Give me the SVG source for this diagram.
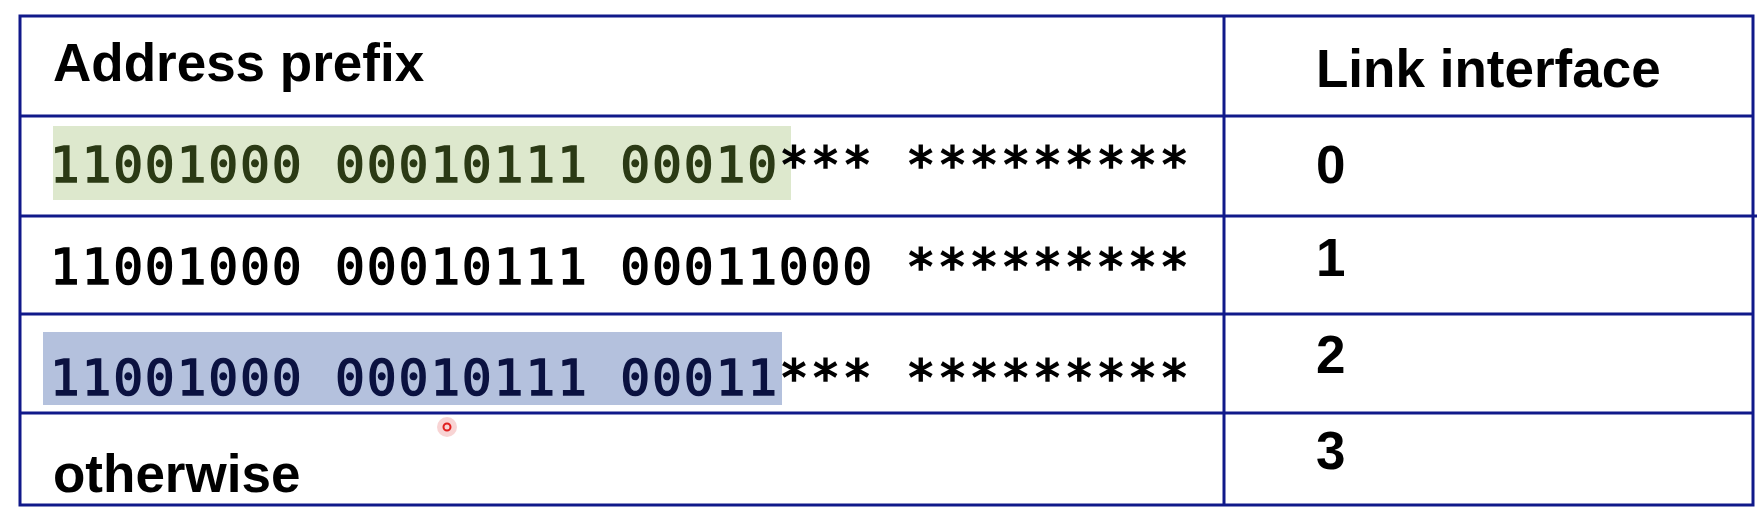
<svg xmlns="http://www.w3.org/2000/svg" width="1764" height="516" viewBox="0 0 1764 516">
<style>
.hdr{font-family:"Liberation Sans",Arial,sans-serif;font-weight:bold;font-size:53px;fill:#000}
.mono{font-family:"DejaVu Sans Mono","Liberation Mono",monospace;font-weight:normal;font-size:49px;letter-spacing:2.2px;white-space:pre;stroke-width:1.6px}
.g{fill:#2b3a15;stroke:#2b3a15}
.b{fill:#0b1240;stroke:#0b1240}
.k{fill:#000;stroke:#000}
.grid{stroke:#10198a;stroke-width:3;fill:none}
</style>
<rect width="1764" height="516" fill="#ffffff"/>
<g id="highlights">
<rect x="53" y="126" width="738" height="74" fill="#dde8cd"/>
<rect x="43" y="332" width="739" height="73" fill="#b4c1dd"/>
</g>
<g id="connectors">
<rect class="grid" x="20" y="16" width="1733" height="489"/>
<line class="grid" x1="20" y1="116" x2="1753" y2="116"/>
<line class="grid" x1="20" y1="216" x2="1757" y2="216"/>
<line class="grid" x1="20" y1="314" x2="1753" y2="314"/>
<line class="grid" x1="20" y1="413" x2="1753" y2="413"/>
<line class="grid" x1="1224" y1="16" x2="1224" y2="505"/>
</g>
<g id="header">
<text class="hdr" x="53" y="81">Address prefix</text>
<text class="hdr" x="1316" y="87">Link interface</text>
</g>
<g id="row0">
<text class="mono" x="50" y="182"><tspan class="g">11001000 00010111 00010</tspan><tspan class="k">*** *********</tspan></text>
<text class="hdr" x="1316" y="183">0</text>
</g>
<g id="row1">
<text class="mono k" x="50" y="284">11001000 00010111 00011000 *********</text>
<text class="hdr" x="1316" y="276">1</text>
</g>
<g id="row2">
<text class="mono" x="50" y="395"><tspan class="b">11001000 00010111 00011</tspan><tspan class="k">*** *********</tspan></text>
<text class="hdr" x="1316" y="373">2</text>
</g>
<g id="row3">
<text class="hdr" x="53" y="492">otherwise</text>
<text class="hdr" x="1316" y="469">3</text>
</g>
<g id="pointer">
<circle cx="447" cy="427" r="10" fill="#f4b8b8" opacity="0.6"/>
<circle cx="447" cy="427" r="3.5" fill="none" stroke="#e02020" stroke-width="2"/>
</g>
</svg>
